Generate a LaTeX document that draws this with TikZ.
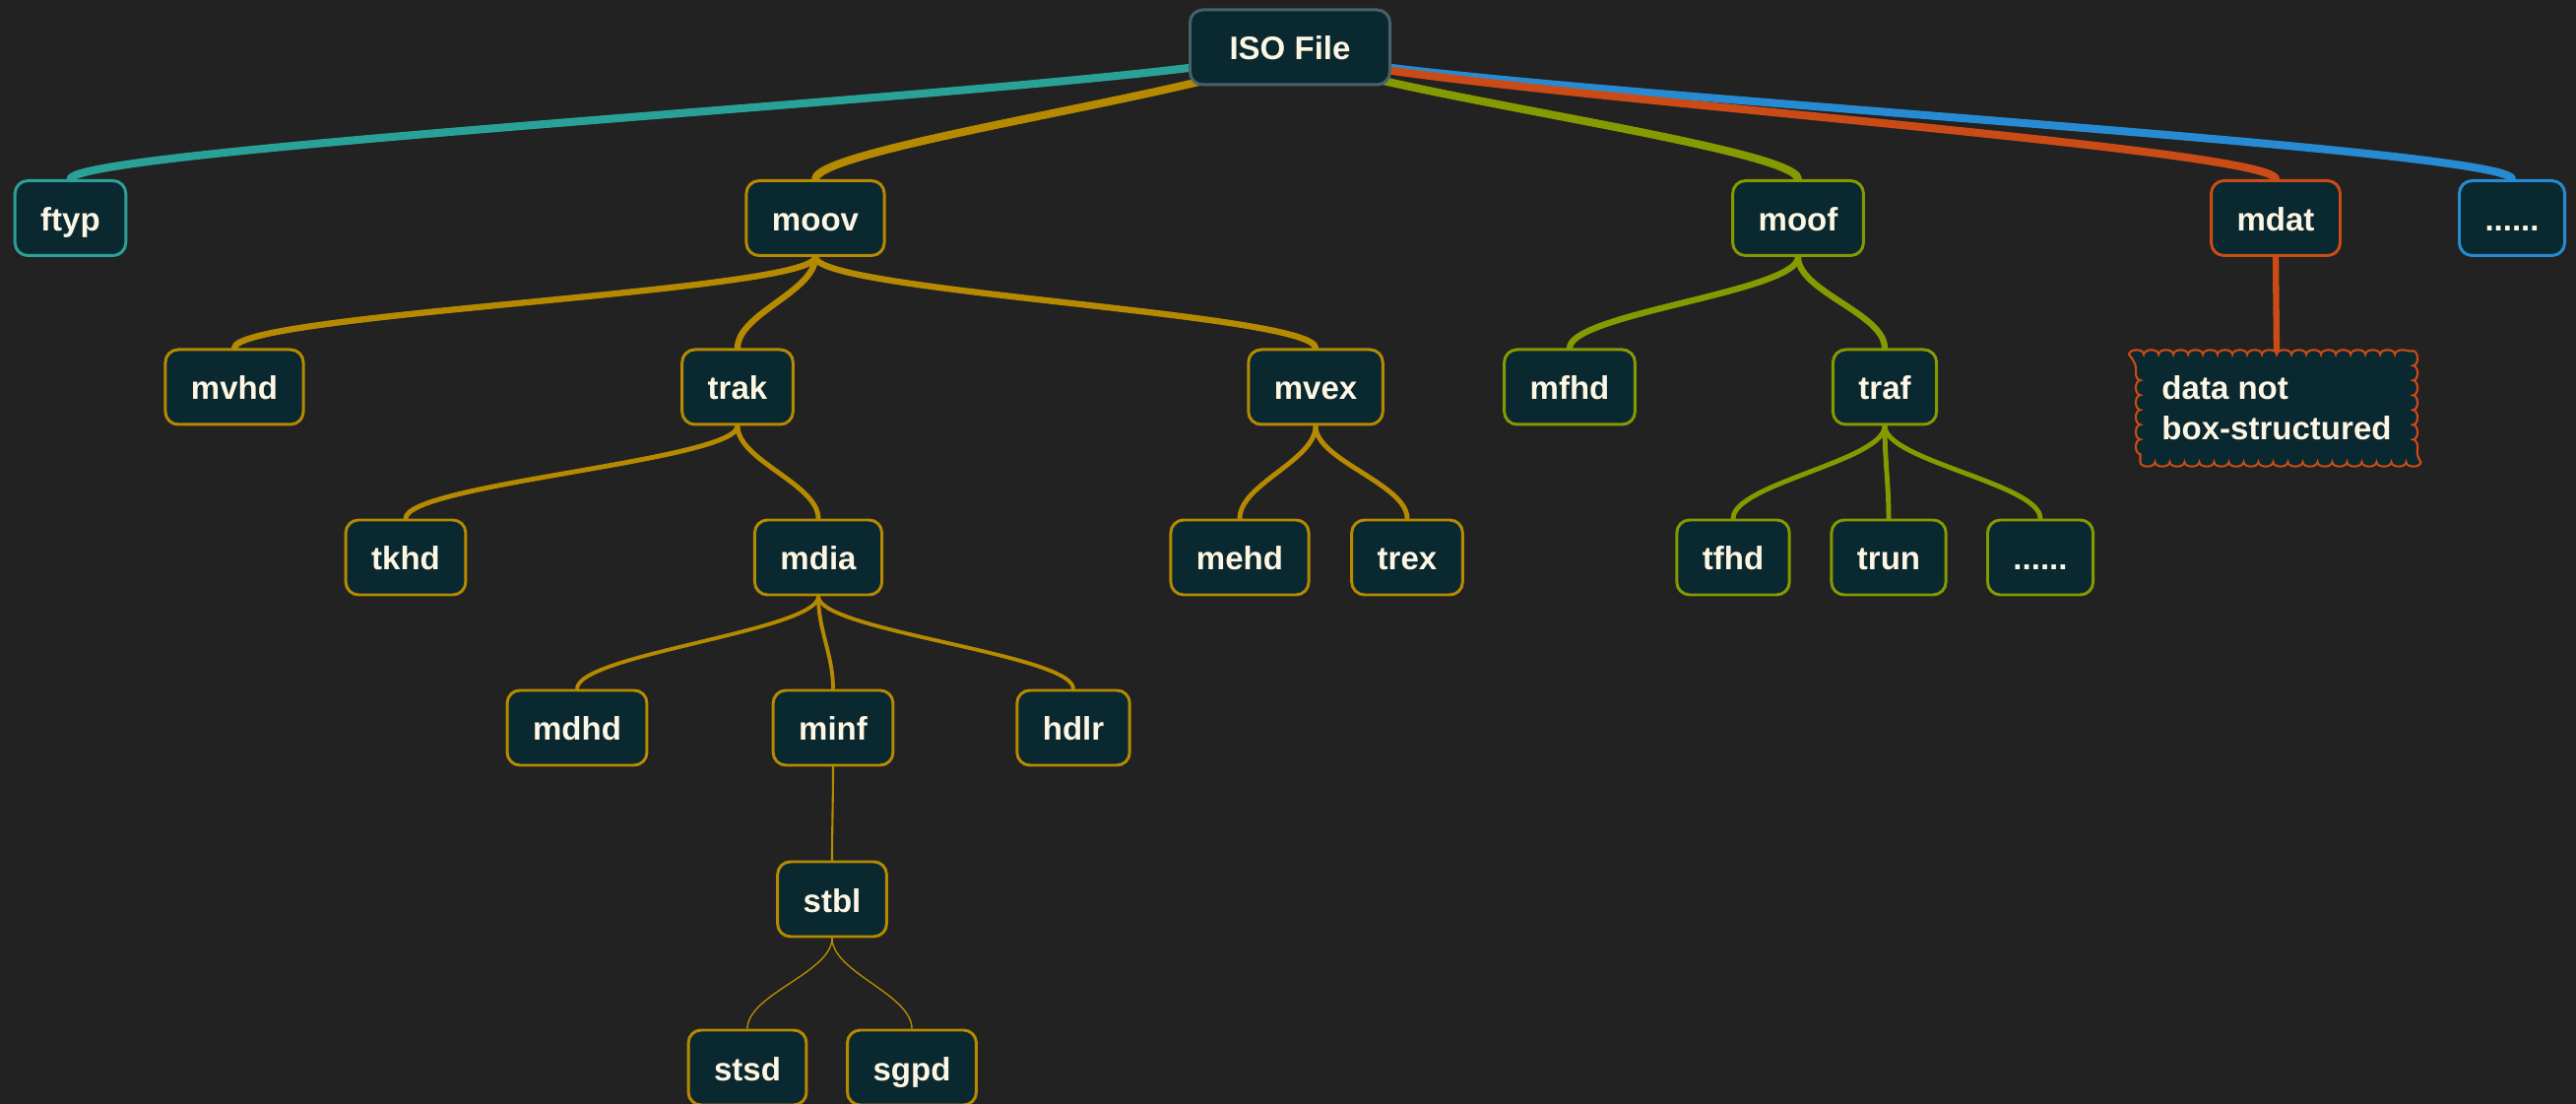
\documentclass[tikz,border=0pt]{standalone}
\usepackage{fontspec}
\setmainfont{Liberation Sans}
\usetikzlibrary{backgrounds, decorations.pathmorphing}
\definecolor{canvas}{HTML}{222222}
\definecolor{boxfill}{HTML}{0A2830}
\definecolor{boxtext}{HTML}{FDF6E3}
\definecolor{rootedge}{HTML}{46626B}
\definecolor{tealline}{HTML}{2AA198}
\definecolor{goldline}{HTML}{B58900}
\definecolor{oliveline}{HTML}{859900}
\definecolor{rustline}{HTML}{CB4B16}
\definecolor{blueline}{HTML}{268BD2}

\begin{document}
\begin{tikzpicture}[
    font=\fontsize{9.4}{11.7}\selectfont\bfseries,
    base/.style={
        rectangle, fill=boxfill, text=boxtext, line width=0.85pt
    },
    box/.style={
        base, rounded corners=0.13cm,
        minimum height=0.76cm, inner xsep=0.26cm,
        text height=0.3cm, text depth=0.04cm
    },
    root/.style={box, draw=rootedge, inner xsep=0.4cm},
    tealbox/.style={box, draw=tealline},
    goldbox/.style={box, draw=goldline},
    olivebox/.style={box, draw=oliveline},
    rustbox/.style={box, draw=rustline},
    bluebox/.style={box, draw=blueline},
    note/.style={
        base, draw=rustline, line width=0.6pt, align=left,
        inner xsep=0.22cm, inner ysep=0.22cm,
        decorate, decoration={bumps, mirror, segment length=0.3cm, amplitude=0.045cm}
    },
    link/.style={line cap=round, to path={.. controls +(0,-#1) and +(0,#1) .. (\tikztotarget)}},
    link/.default=0.35,
    lvl1/.style={link, line width=2.3pt},
    lvl2/.style={link, line width=1.8pt},
    lvl3/.style={link, line width=1.4pt},
    lvl4/.style={link, line width=1.1pt},
    lvl5/.style={link, line width=0.6pt},
    lvl6/.style={link, line width=0.4pt}
]
\useasboundingbox (0,0) rectangle (26.16,-11.21);

% Root and top-level boxes
\node[root]     (iso)  at (13.10,-0.48)  {ISO File};
\node[tealbox]  (ftyp) at (0.715,-2.215) {ftyp};
\node[goldbox]  (moov) at (8.28,-2.215)  {moov};
\node[olivebox] (moof) at (18.26,-2.215) {moof};
\node[rustbox]  (mdat) at (23.11,-2.215) {mdat};
\node[bluebox]  (more) at (25.51,-2.215) {......};

% Second level
\node[goldbox]  (mvhd) at (2.38,-3.93)  {mvhd};
\node[goldbox]  (trak) at (7.49,-3.93)  {trak};
\node[goldbox]  (mvex) at (13.36,-3.93) {mvex};
\node[olivebox] (mfhd) at (15.94,-3.93) {mfhd};
\node[olivebox] (traf) at (19.14,-3.93) {traf};
\node[note]     (raw)  at (23.12,-4.145) {data not\\box-structured};

% Third level
\node[goldbox]  (tkhd) at (4.12,-5.66)  {tkhd};
\node[goldbox]  (mdia) at (8.31,-5.66)  {mdia};
\node[goldbox]  (mehd) at (12.59,-5.66) {mehd};
\node[goldbox]  (trex) at (14.29,-5.66) {trex};
\node[olivebox] (tfhd) at (17.60,-5.66) {tfhd};
\node[olivebox] (trun) at (19.18,-5.66) {trun};
\node[olivebox] (tmore) at (20.72,-5.66) {......};

% mdia and below
\node[goldbox]  (mdhd) at (5.86,-7.39)  {mdhd};
\node[goldbox]  (minf) at (8.46,-7.39)  {minf};
\node[goldbox]  (hdlr) at (10.90,-7.39) {hdlr};
\node[goldbox]  (stbl) at (8.45,-9.13)  {stbl};
\node[goldbox]  (stsd) at (7.59,-10.84) {stsd};
\node[goldbox]  (sgpd) at (9.26,-10.84) {sgpd};

\begin{scope}[on background layer]
\fill[canvas] (-0.1,0.1) rectangle (26.26,-11.31);

% Branches out of the root
\draw[lvl1, tealline]  (iso.center) to (ftyp.north);
\draw[lvl1, goldline]  (iso.center) to (moov.north);
\draw[lvl1, oliveline] (iso.center) to (moof.north);
\draw[lvl1, blueline]  (iso.center) to (more.north);
\draw[lvl1, rustline]  (iso.center) to (mdat.north);

% moov subtree
\draw[lvl2, goldline] (moov.south) to (mvhd.north);
\draw[lvl2, goldline] (moov.south) to (trak.north);
\draw[lvl2, goldline] (moov.south) to (mvex.north);
\draw[lvl3, goldline] (trak.south) to (tkhd.north);
\draw[lvl3, goldline] (trak.south) to (mdia.north);
\draw[lvl3, goldline] (mvex.south) to (mehd.north);
\draw[lvl3, goldline] (mvex.south) to (trex.north);
\draw[lvl4, goldline] (mdia.south) to (mdhd.north);
\draw[lvl4, goldline] (mdia.south) to (minf.north);
\draw[lvl4, goldline] (mdia.south) to (hdlr.north);
\draw[lvl5, goldline] (minf.south) to (stbl.north);
\draw[lvl6, goldline] (stbl.south) to (stsd.north);
\draw[lvl6, goldline] (stbl.south) to (sgpd.north);

% moof subtree
\draw[lvl2, oliveline] (moof.south) to (mfhd.north);
\draw[lvl2, oliveline] (moof.south) to (traf.north);
\draw[lvl3, oliveline] (traf.south) to (tfhd.north);
\draw[lvl3, oliveline] (traf.south) to (trun.north);
\draw[lvl3, oliveline] (traf.south) to (tmore.north);

% mdat payload
\draw[lvl2, rustline] (mdat.south) -- (raw.north);
\end{scope}
\end{tikzpicture}
\end{document}
